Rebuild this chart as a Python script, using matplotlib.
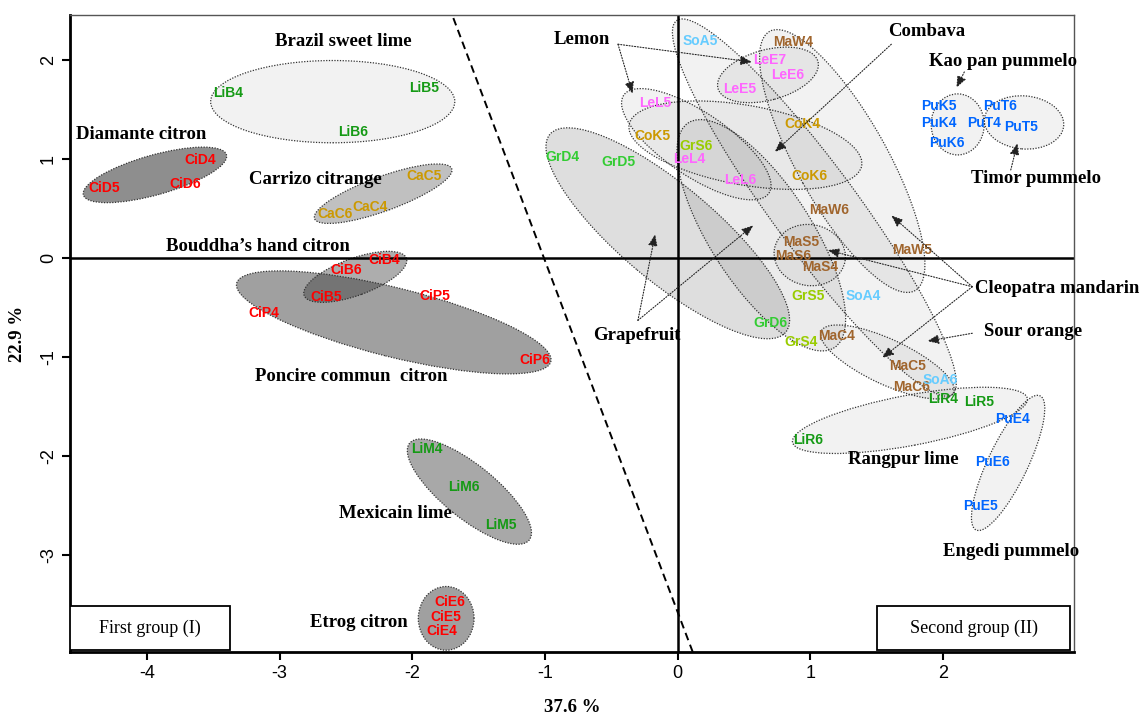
import numpy as np
import matplotlib
matplotlib.use('Agg')
import matplotlib.pyplot as plt
from matplotlib.patches import Ellipse, Rectangle
from matplotlib.transforms import Affine2D

plt.rcParams['axes.unicode_minus'] = False

# sample scores (PC1, PC2)
labels = ['LiB4', 'LiB5', 'LiB6', 'CiD4', 'CiD5', 'CiD6', 'CaC5', 'CaC4', 'CaC6',
          'CiB4', 'CiB6', 'CiB5', 'CiP5', 'CiP4', 'CiP6', 'LiM4', 'LiM6', 'LiM5',
          'CiE6', 'CiE5', 'CiE4',
          'SoA5', 'MaW4', 'LeE7', 'LeE6', 'LeE5', 'LeL5', 'CoK4', 'CoK5', 'GrS6',
          'LeL4', 'GrD4', 'GrD5', 'LeL6', 'CoK6', 'MaW6', 'MaS5', 'MaS6', 'MaS4',
          'MaW5', 'GrS5', 'SoA4', 'GrD6', 'GrS4', 'MaC4', 'MaC5', 'MaC6', 'SoA6',
          'LiR4', 'LiR5', 'LiR6', 'PuE4', 'PuE6', 'PuE5', 'PuK5', 'PuK4', 'PuK6',
          'PuT6', 'PuT4', 'PuT5']
pc1 = [-3.39, -1.91, -2.45, -3.60, -4.32, -3.71, -1.91, -2.32, -2.58,
       -2.21, -2.50, -2.65, -1.83, -3.12, -1.08, -1.89, -1.61, -1.33,
       -1.72, -1.75, -1.78,
       0.17, 0.87, 0.69, 0.83, 0.47, -0.17, 0.94, -0.19, 0.14,
       0.09, -0.87, -0.45, 0.47, 0.99, 1.14, 0.93, 0.87, 1.07,
       1.77, 0.98, 1.40, 0.70, 0.93, 1.20, 1.73, 1.76, 1.98,
       2.00, 2.27, 0.98, 2.52, 2.37, 2.28, 1.97, 1.97, 2.03,
       2.43, 2.31, 2.59]
pc2 = [1.67, 1.72, 1.27, 0.99, 0.71, 0.75, 0.83, 0.52, 0.44,
       -0.02, -0.12, -0.39, -0.38, -0.56, -1.03, -1.93, -2.31, -2.70,
       -3.47, -3.63, -3.77,
       2.19, 2.18, 2.00, 1.85, 1.71, 1.57, 1.35, 1.23, 1.13,
       1.00, 1.02, 0.97, 0.79, 0.83, 0.49, 0.16, 0.02, -0.09,
       0.08, -0.38, -0.38, -0.66, -0.85, -0.79, -1.09, -1.30, -1.23,
       -1.42, -1.45, -1.84, -1.63, -2.06, -2.51, 1.54, 1.36, 1.16,
       1.54, 1.36, 1.32]

colores = {'Ci': '#ff0000', 'Li': '#159a15', 'Ca': '#cc9900', 'Co': '#cc9900',
           'Le': '#ff66ff', 'GrD': '#33cc33', 'GrS': '#99cc00', 'Ma': '#a0652d',
           'So': '#66ccff', 'Pu': '#0066ff'}

# group ellipses: centre, semi-axes (x units), angle on screen, fill
ell_cx = [-2.60, -3.94, -2.22, -2.14, -2.43, -1.57, -1.745,
          -0.075, 0.63, 0.14, 0.68, 0.51, 1.03, 1.24, 0.995, 1.58, 1.75, 2.49, 2.11, 2.61]
ell_cy = [1.58, 0.84, 0.65, -0.65, -0.19, -2.36, -3.64,
          0.25, 0.23, 1.15, 1.85, 1.14, 0.51, 0.98, 0.03, -1.05, -1.64, -2.07, 1.35, 1.37]
ell_a = [0.92, 0.56, 0.55, 1.22, 0.41, 0.58, 0.24,
         1.16, 1.01, 0.66, 0.39, 0.89, 1.75, 1.12, 0.27, 0.55, 0.90, 0.56, 0.23, 0.30]
ell_b = [0.31, 0.15, 0.13, 0.26, 0.14, 0.20, 0.21,
         0.36, 0.38, 0.24, 0.19, 0.30, 0.32, 0.34, 0.23, 0.17, 0.19, 0.15, 0.20, 0.20]
ell_ang = [0, 15.7, 20, -14, 20, -39, 90,
           -40, -57, -34, 15, -10, -53.6, -60.7, -10, -25, 10.6, 64.5, 90, -5]
ell_fill = ['#f2f2f2', '#8e8e8e', '#c0c0c0', '#a0a0a0', (0.2, 0.2, 0.2, 0.4), '#a8a8a8', '#a0a0a0',
            (0, 0, 0, 0.13), (0, 0, 0, 0.08), (0, 0, 0, 0.05), (0, 0, 0, 0.05), (0, 0, 0, 0.04),
            (0, 0, 0, 0.05), (0, 0, 0, 0.05), (0, 0, 0, 0.05), (0, 0, 0, 0.05), (0, 0, 0, 0.05),
            (0, 0, 0, 0.05), (0, 0, 0, 0.05), (0, 0, 0, 0.05)]

# group names
grupos = ['Brazil sweet lime', 'Diamante citron', 'Carrizo citrange', 'Bouddha\u2019s hand citron',
          'Poncire commun  citron', 'Mexicain lime', 'Etrog citron', 'Rangpur lime', 'Engedi pummelo']
grupos_x = [-2.52, -4.04, -2.73, -3.165, -2.46, -2.125, -2.40, 1.70, 2.51]
grupos_y = [2.19, 1.25, 0.79, 0.12, -1.20, -2.58, -3.68, -2.04, -2.96]

# names with arrows: text pos, arrow start, arrow ends
flechas = {
    'Lemon': ((-0.72, 2.21), (-0.45, 2.16), [(-0.34, 1.66), (0.56, 1.98)]),
    'Combava': ((1.88, 2.29), (1.61, 2.16), [(0.73, 1.07)]),
    'Kao pan pummelo': ((2.45, 1.99), (2.16, 1.88), [(2.10, 1.72)]),
    'Timor pummelo': ((2.70, 0.80), (2.51, 0.89), [(2.56, 1.16)]),
    'Grapefruit': ((-0.31, -0.78), (-0.30, -0.63), [(-0.17, 0.24), (0.57, 0.33)]),
    'Cleopatra mandarin': ((2.86, -0.31), (2.22, -0.29), [(1.61, 0.43), (1.13, 0.08), (1.54, -1.01)]),
    'Sour orange': ((2.675, -0.74), (2.22, -0.76), [(1.88, -0.84)]),
}

# separation line x = b0 + b1*y
sep_b0 = -1.008
sep_b1 = -0.2817

fig = plt.figure(figsize=(11.42, 7.16), dpi=100)
ax = fig.add_axes([0.0613, 0.0894, 0.8792, 0.8896])
ax.set_xlim(-4.58, 2.987)
ax.set_ylim(-3.98, 2.455)

# ratio so ellipses keep their shape on screen
k = (0.8792 * 11.42 / (2.987 + 4.58)) / (0.8896 * 7.16 / (2.455 + 3.98))

for i in range(len(ell_cx)):
    e = Ellipse((0, 0), 2 * ell_a[i], 2 * ell_b[i], angle=ell_ang[i],
                facecolor=ell_fill[i], edgecolor='#333333', linestyle=(0, (1, 1.2)), lw=0.9)
    e.set_transform(Affine2D().scale(1, k).translate(ell_cx[i], ell_cy[i]) + ax.transData)
    ax.add_patch(e)

ax.axhline(0, color='black', lw=1.8)
ax.axvline(0, color='black', lw=1.8)

yy = np.array([-3.98, 2.455])
ax.plot(sep_b0 + sep_b1 * yy, yy, color='black', ls=(0, (4, 2.5)), lw=1.4)

for lab, xv, yv in zip(labels, pc1, pc2):
    c = colores.get(lab[:3], colores.get(lab[:2]))
    ax.text(xv, yv, lab, color=c, fontsize=10, fontweight='bold', ha='center', va='center',
            family=['Liberation Sans', 'DejaVu Sans'])

for g, xv, yv in zip(grupos, grupos_x, grupos_y):
    ax.text(xv, yv, g, fontsize=13.5, fontweight='bold', ha='center', va='center',
            family=['Liberation Serif', 'DejaVu Serif'])

for nombre, (pos, ini, fins) in flechas.items():
    ax.text(pos[0], pos[1], nombre, fontsize=13.5, fontweight='bold', ha='center', va='center',
            family=['Liberation Serif', 'DejaVu Serif'])
    for f in fins:
        ax.annotate('', xy=f, xytext=ini,
                    arrowprops=dict(arrowstyle='-|>,head_length=0.7,head_width=0.28', color='#222222',
                                    lw=0.8, linestyle=(0, (1, 1.5)), shrinkA=0, shrinkB=0))

# group boxes
ax.add_patch(Rectangle((0.0, 0.003), 0.159, 0.069, transform=ax.transAxes,
                       facecolor='white', edgecolor='black', lw=1.3, zorder=5))
ax.text(0.08, 0.037, 'First group (I)', transform=ax.transAxes, ha='center', va='center',
        fontsize=13, family=['Liberation Serif'], zorder=6)
ax.add_patch(Rectangle((0.804, 0.003), 0.192, 0.069, transform=ax.transAxes,
                       facecolor='white', edgecolor='black', lw=1.3, zorder=5))
ax.text(0.9, 0.037, 'Second group (II)', transform=ax.transAxes, ha='center', va='center',
        fontsize=13, family=['Liberation Serif'], zorder=6)

ax.set_xticks([-4, -3, -2, -1, 0, 1, 2])
ax.set_yticks([-3, -2, -1, 0, 1, 2])
ax.tick_params(direction='out', length=6, width=1.5, labelsize=13)
for t in ax.get_yticklabels():
    t.set_rotation(90)
    t.set_va('center')
for t in ax.get_xticklabels() + ax.get_yticklabels():
    t.set_family(['Liberation Sans Narrow', 'Liberation Sans'])

for s in ['left', 'bottom']:
    ax.spines[s].set_linewidth(2)
for s in ['top', 'right']:
    ax.spines[s].set_linewidth(1)
    ax.spines[s].set_color('#555555')

ax.set_xlabel('37.6 %', fontsize=13.5, fontweight='bold', family=['Liberation Serif'], labelpad=12)
ax.set_ylabel('22.9 %', fontsize=13.5, fontweight='bold', family=['Liberation Serif'], labelpad=10)

fig.savefig('out.png', dpi=100)
